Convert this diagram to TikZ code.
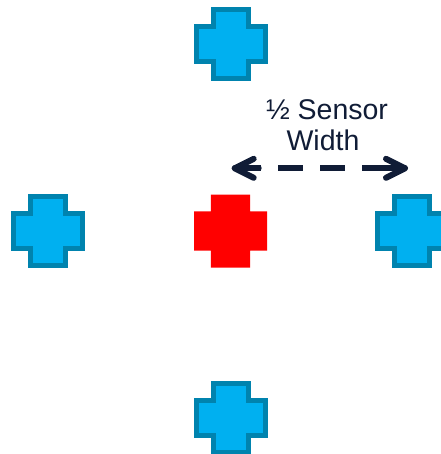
\documentclass[tikz,border=0pt]{standalone}
\usepackage{fontspec}
\setmainfont{Liberation Sans}
\definecolor{crossfill}{HTML}{00B0F0}
\definecolor{crossline}{HTML}{0083AE}
\definecolor{crossred}{HTML}{FF0000}
\definecolor{navy}{HTML}{101C36}
\begin{document}
\begin{tikzpicture}[x=1pt,y=-1pt,
  bluecross/.style={fill=crossfill,draw=crossline,line width=5pt,line join=miter},
  redcross/.style={fill=crossred},
  lbl/.style={text=navy,font=\fontsize{28.5}{31.7}\selectfont,inner sep=0pt,anchor=base},
  dashline/.style={draw=navy,line width=6pt,dash pattern=on 25pt off 17pt},
  chevron/.style={draw=navy,line width=6pt,line cap=round,line join=round},
  pics/plus/.style n args={3}{code={
    \path[#3] (-#1,-#2) -- (-#2,-#2) -- (-#2,-#1) -- (#2,-#1) -- (#2,-#2) -- (#1,-#2) --
      (#1,#2) -- (#2,#2) -- (#2,#1) -- (-#2,#1) -- (-#2,#2) -- (-#1,#2) -- cycle;
  }}]
\useasboundingbox (0,0) rectangle (440,454);
% crosses
\pic (top) at (230.5,44.5) {plus={34.5}{17.5}{bluecross}};
\pic (left) at (48,231.3) {plus={34.5}{17.5}{bluecross}};
\pic (right) at (412,231) {plus={34.5}{17.5}{bluecross}};
\pic (bottom) at (230.5,418) {plus={34.5}{17.5}{bluecross}};
\pic (center) at (230.5,231) {plus={36.5}{19.7}{redcross}};
% label
\node[lbl] (t1) at (327,119.3) {½ Sensor};
\node[lbl] (t2) at (323,151) {Width};
% dimension arrow
\coordinate (aL) at (234.7,168.3);
\coordinate (aR) at (405,168.3);
\coordinate (dL) at (236,168.3);
\coordinate (dR) at (404,168.3);
\draw[dashline] (dL) -- (dR);
\draw[chevron] ([shift={(19,-9.5)}]aL) -- (aL) -- ([shift={(19,9.5)}]aL);
\draw[chevron] (aL) -- ([shift={(24,0)}]aL);
\draw[chevron] ([shift={(-19,-9.5)}]aR) -- (aR) -- ([shift={(-19,9.5)}]aR);
\draw[chevron] (aR) -- ([shift={(-20,0)}]aR);
\end{tikzpicture}
\end{document}
